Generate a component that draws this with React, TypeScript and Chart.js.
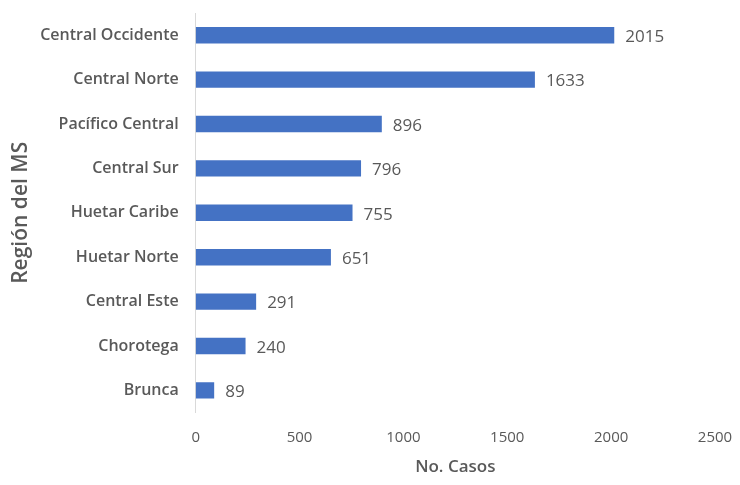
import React, { useEffect, useRef } from "react";
import { Chart, registerables } from "chart.js";

Chart.register(...registerables);

const categories = [
  "Central Occidente",
  "Central Norte",
  "Pacífico Central",
  "Central Sur",
  "Huetar Caribe",
  "Huetar Norte",
  "Central Este",
  "Chorotega",
  "Brunca",
];
const casos = [2015, 1633, 896, 796, 755, 651, 291, 240, 89];
const xTicks = [0, 500, 1000, 1500, 2000, 2500];

const TEXT = "#595959";
const FONT = "'Open Sans', 'Noto Sans', sans-serif";

const valueLabels = {
  id: "valueLabels",
  afterDatasetsDraw(chart: any) {
    const ctx = chart.ctx;
    const meta = chart.getDatasetMeta(0);
    ctx.save();
    ctx.fillStyle = TEXT;
    ctx.font = `17px ${FONT}`;
    ctx.textAlign = "left";
    ctx.textBaseline = "middle";
    meta.data.forEach((bar: any, i: number) => {
      ctx.fillText(String(casos[i]), bar.x + 11, bar.y + 2);
    });
    ctx.restore();
  },
};

export default function App() {
  const ref = useRef<HTMLCanvasElement | null>(null);
  useEffect(() => {
    document.body.style.margin = "0";
    const chart = new Chart(ref.current as HTMLCanvasElement, {
      type: "bar",
      data: {
        labels: categories,
        datasets: [
          {
            data: casos,
            backgroundColor: "#4472C4",
            borderWidth: 0,
            categoryPercentage: 0.37,
            barPercentage: 1,
          },
        ],
      },
      options: {
        indexAxis: "y",
        animation: false,
        responsive: false,
        maintainAspectRatio: false,
        layout: { padding: { top: 13, right: 25, bottom: 8, left: 8 } },
        plugins: {
          legend: { display: false },
          tooltip: { enabled: false },
        },
        scales: {
          x: {
            min: 0,
            max: 2500,
            afterBuildTicks: (axis: any) => {
              axis.ticks = xTicks.map((v) => ({ value: v }));
            },
            grid: { display: false, drawTicks: true, tickLength: 16 },
            border: { display: false },
            ticks: {
              color: TEXT,
              font: { family: FONT, size: 15 },
              padding: 0,
              callback: (v: any) => String(v),
            },
            title: {
              display: true,
              text: "No. Casos",
              color: TEXT,
              font: { family: FONT, size: 17, weight: "600" },
              padding: { top: 10, bottom: 0 },
            },
          },
          y: {
            grid: { display: false, drawTicks: true, tickLength: 17 },
            border: { display: true, color: "#d9d9d9", width: 1 },
            ticks: {
              color: TEXT,
              font: { family: FONT, size: 16, weight: "600", lineHeight: 1 },
              padding: 0,
            },
            title: {
              display: true,
              text: "Región del MS",
              color: TEXT,
              font: { family: FONT, size: 21, weight: "600" },
              padding: { top: 0, bottom: 7 },
            },
          },
        },
      },
      plugins: [valueLabels],
    });
    return () => chart.destroy();
  }, []);
  return (
    <div style={{ width: 740, height: 485, background: "#fff" }}>
      <canvas ref={ref} width={740} height={485} />
    </div>
  );
}
